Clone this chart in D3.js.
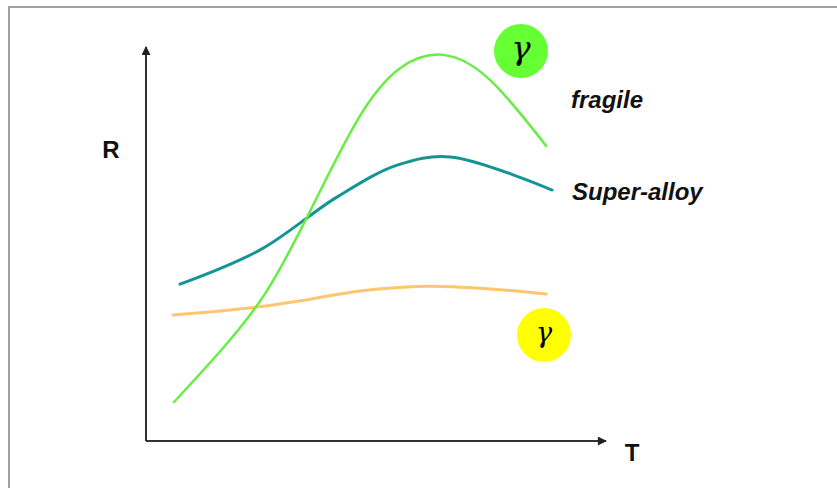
<!DOCTYPE html>
<html>
<head>
<meta charset="utf-8">
<script src="https://cdn.jsdelivr.net/npm/d3@7"></script>
<style>
  body { margin: 0; background: #fff; }
  svg { display: block; }
</style>
</head>
<body>
<svg id="chart" width="837" height="488"></svg>
<script>
/*************************** Data ***************************/
// T values (arbitrary units 0..10) and R values (0..10)
var fragileT = [0.61, 1.60, 2.60, 3.60, 4.60, 5.50, 6.46, 7.50, 8.70];
var fragileR = [0.99, 2.26, 3.76, 5.91, 8.15, 9.44, 9.80, 9.14, 7.49];

var alloyT = [0.74, 2.48, 4.15, 5.46, 6.61, 8.83];
var alloyR = [3.98, 4.85, 6.19, 7.00, 7.21, 6.37];

var gammaT = [0.59, 2.41, 3.57, 4.65, 6.11, 7.48, 8.70];
var gammaR = [3.20, 3.40, 3.60, 3.81, 3.93, 3.86, 3.73];

var axisLabels = ["T", "R"];
var seriesLabels = ["fragile", "Super-alloy"];

/*************************** Chart ***************************/
var svg = d3.select("#chart");

// frame
svg.append("rect")
   .attr("x", 9).attr("y", 7)
   .attr("width", 900).attr("height", 600)
   .attr("fill", "none")
   .attr("stroke", "#a0a0a0")
   .attr("stroke-width", 2);

var x = d3.scaleLinear().domain([0, 10]).range([146, 606]);
var y = d3.scaleLinear().domain([0, 10]).range([441, 47]);

var defs = svg.append("defs");
defs.append("marker")
    .attr("id", "arrow")
    .attr("viewBox", "0 0 10 10")
    .attr("refX", 9).attr("refY", 5)
    .attr("markerWidth", 10).attr("markerHeight", 9)
    .attr("markerUnits", "userSpaceOnUse")
    .attr("orient", "auto")
    .append("path")
    .attr("d", "M0,0 L10,5 L0,10 Z")
    .attr("fill", "#222");

// axes (no ticks)
svg.append("line")
   .attr("x1", x(0)).attr("y1", y(0))
   .attr("x2", x(0)).attr("y2", y(10))
   .attr("stroke", "#333").attr("stroke-width", 2)
   .attr("marker-end", "url(#arrow)");
svg.append("line")
   .attr("x1", x(0)).attr("y1", y(0))
   .attr("x2", x(10)).attr("y2", y(0))
   .attr("stroke", "#333").attr("stroke-width", 2)
   .attr("marker-end", "url(#arrow)");

svg.append("text")
   .attr("x", 632).attr("y", 461)
   .attr("text-anchor", "middle")
   .attr("font-family", "Liberation Sans, Arial, sans-serif")
   .attr("font-weight", "bold")
   .attr("font-size", "24px")
   .attr("fill", "#111")
   .text(axisLabels[0]);
svg.append("text")
   .attr("x", 111).attr("y", 158)
   .attr("text-anchor", "middle")
   .attr("font-family", "Liberation Sans, Arial, sans-serif")
   .attr("font-weight", "bold")
   .attr("font-size", "24px")
   .attr("fill", "#111")
   .text(axisLabels[1]);

// curves
function lineFor(curve) {
    return d3.line()
        .x(function(d){ return x(d[0]); })
        .y(function(d){ return y(d[1]); })
        .curve(curve);
}

var series = [
    { t: gammaT,   r: gammaR,   color: "#ffc66e", width: 3,   curve: d3.curveCatmullRom.alpha(0.5) },
    { t: alloyT,   r: alloyR,   color: "#169494", width: 3,   curve: d3.curveCatmullRom.alpha(0.5) },
    { t: fragileT, r: fragileR, color: "#66ee44", width: 2.5, curve: d3.curveNatural }
];

svg.selectAll("path.curve")
   .data(series)
   .enter()
   .append("path")
   .attr("class", "curve")
   .attr("d", function(s){ return lineFor(s.curve)(d3.zip(s.t, s.r)); })
   .attr("fill", "none")
   .attr("stroke", function(s){ return s.color; })
   .attr("stroke-width", function(s){ return s.width; })
   .attr("stroke-linecap", "round");

// series labels
svg.append("text")
   .attr("x", 571).attr("y", 108)
   .attr("font-family", "Liberation Sans, Arial, sans-serif")
   .attr("font-weight", "bold").attr("font-style", "italic")
   .attr("font-size", "24px")
   .attr("fill", "#111")
   .text(seriesLabels[0]);
svg.append("text")
   .attr("x", 572).attr("y", 200)
   .attr("font-family", "Liberation Sans, Arial, sans-serif")
   .attr("font-weight", "bold").attr("font-style", "italic")
   .attr("font-size", "24px")
   .attr("fill", "#111")
   .text(seriesLabels[1]);

// gamma phase badges
var badges = [
    { cx: 521, cy: 51,  r: 27, fill: "#66ff33", size: 32 },
    { cx: 544, cy: 335, r: 27, fill: "#ffff00", size: 27 }
];
var g = svg.selectAll("g.badge")
   .data(badges)
   .enter()
   .append("g")
   .attr("class", "badge");
g.append("circle")
 .attr("cx", function(d){ return d.cx; })
 .attr("cy", function(d){ return d.cy; })
 .attr("r", function(d){ return d.r; })
 .attr("fill", function(d){ return d.fill; });
g.append("text")
 .attr("x", function(d){ return d.cx; })
 .attr("y", function(d){ return d.cy + d.size * 0.25; })
 .attr("text-anchor", "middle")
 .attr("font-family", "DejaVu Serif, Liberation Serif, serif")
 .attr("font-style", "italic")
 .attr("font-size", function(d){ return d.size + "px"; })
 .attr("fill", "#000")
 .text("\u03b3");
</script>
</body>
</html>
